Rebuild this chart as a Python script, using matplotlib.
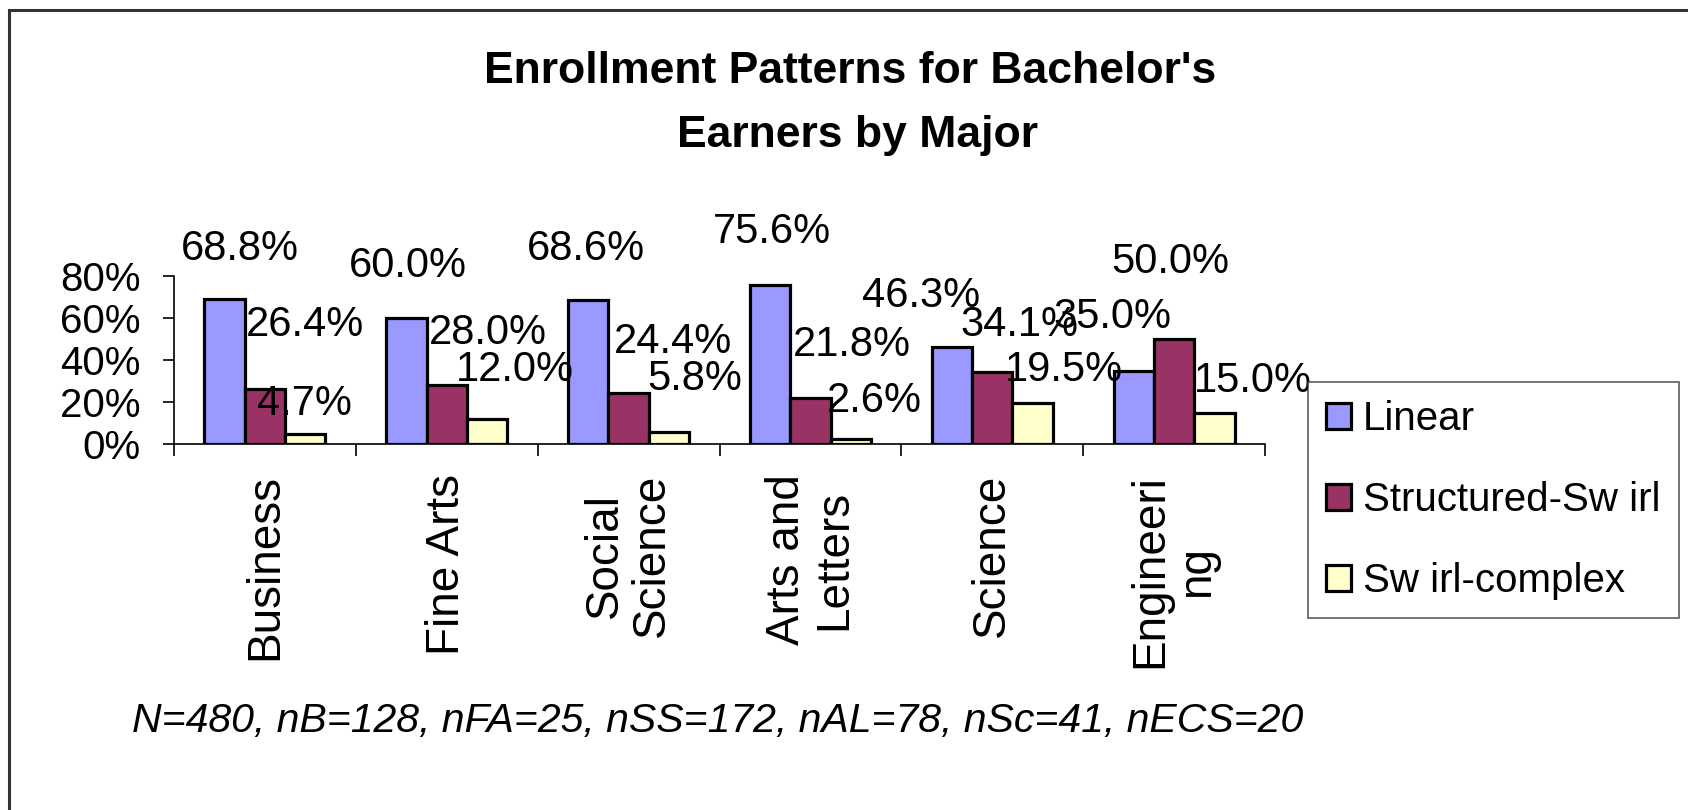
import numpy as np
import matplotlib
matplotlib.use("Agg")
import matplotlib.pyplot as plt
from matplotlib.patches import Rectangle, Patch
from matplotlib.ticker import PercentFormatter

plt.rcParams['font.family'] = ['Liberation Sans', 'DejaVu Sans']

# data
majors = ["Business", "Fine Arts", "Social\nScience", "Arts and\nLetters", "Science", "Engineeri\nng"]
series = ["Linear", "Structured-Sw irl", "Sw irl-complex"]
linear = [68.8, 60.0, 68.6, 75.6, 46.3, 35.0]
structured = [26.4, 28.0, 24.4, 21.8, 34.1, 50.0]
swirl = [4.7, 12.0, 5.8, 2.6, 19.5, 15.0]
title_lines = ["Enrollment Patterns for Bachelor's", "Earners by Major"]
note = "N=480, nB=128, nFA=25, nSS=172, nAL=78, nSc=41, nECS=20"

colors = ["#9999FF", "#993366", "#FFFFCC"]
# label offsets in pixels (the original labels sit a bit off the bars)
lab_dx = [[15, 1, -2, 2, -31, -21],
          [40, 41, 44, 41, 27, -4],
          [-1, 28, 26, 24, 31, 38]]
lab_dy = [[39, 41, 40, 42, 40, 43],
          [53, 41, 40, 42, 36, 66],
          [19, 38, 42, 27, 22, 21]]

W, H = 1688, 810
fig = plt.figure(figsize=(W / 100, H / 100), dpi=100)
fig.patch.set_facecolor("white")

# outer frame (only top and left edges show)
fig.patches.append(Rectangle((9 / W, -0.2), 1.2, 1.2 - 10 / H, transform=fig.transFigure,
                             fill=False, edgecolor="#333333", lw=2.2))

ax = fig.add_axes([174 / W, 1 - 444.3 / H, (1265 - 174) / W, (444.3 - 275.7) / H])
x = np.arange(len(majors))
w = 0.222
for i, vals in enumerate([linear, structured, swirl]):
    pos = x + (i - 1) * w
    ax.bar(pos, vals, w, color=colors[i], edgecolor="black", linewidth=2.3, zorder=3)
    for j, v in enumerate(vals):
        ax.annotate(f"{v:.1f}%", (pos[j], v), xytext=(lab_dx[i][j], lab_dy[i][j]),
                    textcoords="offset pixels", ha="center", va="baseline",
                    fontsize=30, annotation_clip=False, zorder=5)

ax.set_xlim(-0.5, len(majors) - 0.5)
ax.set_ylim(0, 80)
ax.set_yticks([0, 20, 40, 60, 80])
ax.yaxis.set_major_formatter(PercentFormatter(decimals=0))
ax.tick_params(axis="y", length=8, width=1.2, pad=16, labelsize=29)

ax.set_xticks(x, majors)
ax.set_xticks(np.arange(len(majors) + 1) - 0.5, minor=True)
ax.tick_params(axis="x", which="major", length=0, pad=21.5, labelsize=33)
ax.tick_params(axis="x", which="minor", length=8.6, width=1.2)
for t in ax.get_xticklabels():
    t.set_rotation(90)
    t.set_va("top")
    t.set_ha("center")
    t.set_linespacing(1.08)

for s in ["top", "right"]:
    ax.spines[s].set_visible(False)
ax.spines["left"].set_linewidth(1.2)
ax.spines["bottom"].set_linewidth(1.2)
ax.patch.set_alpha(0)

# title
fig.text(850 / W, 1 - 83.3 / H, title_lines[0], ha="center", va="baseline",
         fontsize=32, fontweight="bold")
fig.text(857 / W, 1 - 146.7 / H, title_lines[1], ha="center", va="baseline",
         fontsize=32, fontweight="bold")

# note
fig.text(718 / W, 1 - 731.7 / H, note, ha="center", va="baseline",
         fontsize=29.5, style="italic")

handles = [Patch(facecolor=c, edgecolor="black", linewidth=2.3) for c in colors]
leg = fig.legend(handles, series, loc="upper left", bbox_to_anchor=(1307.7 / W, 1 - 381.7 / H),
                 borderaxespad=0, fontsize=29, frameon=True, fancybox=False,
                 handlelength=0.62, handleheight=0.62, handletextpad=0.3,
                 labelspacing=1.07, borderpad=0.45)
leg.get_frame().set_edgecolor("#333333")
leg.get_frame().set_linewidth(1.2)

fig.savefig("out.png", dpi=100)
